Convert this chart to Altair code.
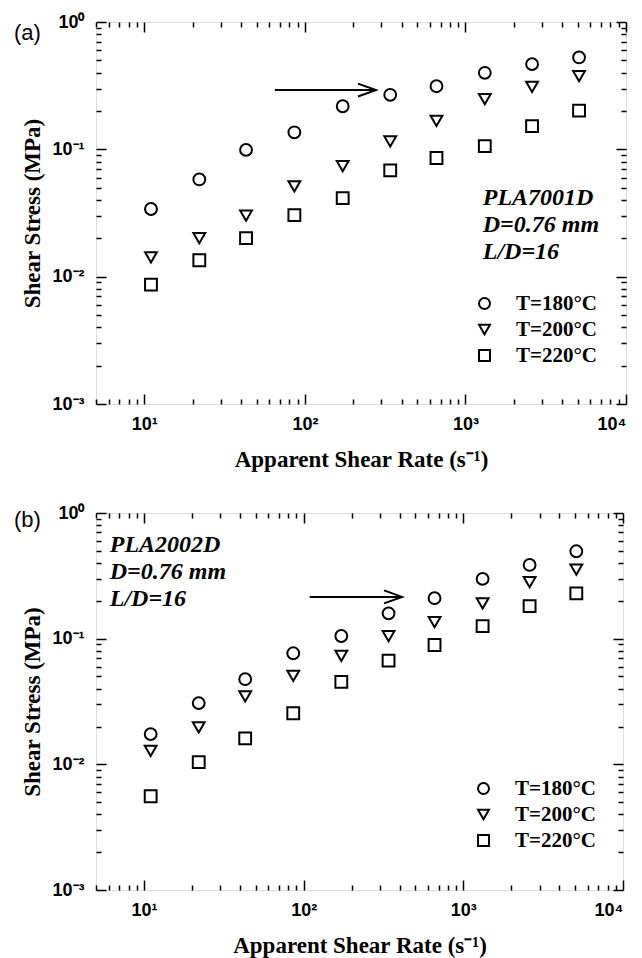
import altair as alt
import pandas as pd

# ---------------- data ----------------
rate = [11, 22, 43, 86, 172, 340, 660, 1320, 2600, 5100]
series = ["T=180°C", "T=200°C", "T=220°C"]

a_180 = [0.034, 0.058, 0.099, 0.136, 0.218, 0.268, 0.313, 0.399, 0.467, 0.527]
a_200 = [0.0142, 0.0201, 0.0302, 0.0512, 0.0739, 0.1156, 0.167, 0.248, 0.31, 0.376]
a_220 = [0.00865, 0.01345, 0.0201, 0.0304, 0.0414, 0.0684, 0.0855, 0.106, 0.152, 0.2015]

b_180 = [0.0174, 0.0307, 0.0476, 0.0765, 0.105, 0.159, 0.210, 0.299, 0.386, 0.496]
b_200 = [0.0128, 0.0197, 0.0347, 0.0506, 0.0728, 0.105, 0.1356, 0.191, 0.282, 0.355]
b_220 = [0.00557, 0.0104, 0.0161, 0.0255, 0.0453, 0.0669, 0.089, 0.126, 0.1817, 0.229]

note_a_lines = ["PLA7001D", "D=0.76 mm", "L/D=16"]
note_a_x = [1282, 1282, 1282]
note_a_y = [0.0417, 0.0254, 0.0156]

note_b_lines = ["PLA2002D", "D=0.76 mm", "L/D=16"]
note_b_x = [6.1, 6.1, 6.1]
note_b_y = [0.556, 0.34, 0.207]

arrow_a = {"x": [65], "x2": [277], "y": [0.292]}
arrow_b = {"x": [109], "x2": [413], "y": [0.215]}

x_major = [10, 100, 1000, 10000]
x_all = [5, 6, 7, 8, 9, 10, 20, 30, 40, 50, 60, 70, 80, 90, 100,
         200, 300, 400, 500, 600, 700, 800, 900, 1000,
         2000, 3000, 4000, 5000, 6000, 7000, 8000, 9000, 10000]
y_major = [0.001, 0.01, 0.1, 1]
y_all = [0.001, 0.002, 0.003, 0.004, 0.005, 0.006, 0.007, 0.008, 0.009,
         0.01, 0.02, 0.03, 0.04, 0.05, 0.06, 0.07, 0.08, 0.09,
         0.1, 0.2, 0.3, 0.4, 0.5, 0.6, 0.7, 0.8, 0.9, 1]

shapes = ["circle", "triangle-down", "square"]

SANS = "Liberation Sans"
SERIF = "Liberation Serif"

sup_expr = ("'10' + (datum.value < 0.005 ? '⁻³' : datum.value < 0.05 ? '⁻²' : "
            "datum.value < 0.5 ? '⁻¹' : datum.value < 5 ? '⁰' : datum.value < 50 ? '¹' : "
            "datum.value < 500 ? '²' : datum.value < 5000 ? '³' : '⁴')")
major_test = "abs(log(datum.value)/LN10 - round(log(datum.value)/LN10)) < 0.001"
tick_size = {"condition": {"test": major_test, "value": 10}, "value": 5}

xscale = alt.Scale(type="log", domain=[5, 10000], nice=False)
yscale = alt.Scale(type="log", domain=[0.001, 1], nice=False)


def tick_axis(orient, offset, values):
    return alt.Axis(orient=orient, offset=offset, values=values, labels=False,
                    domain=False, grid=False, title=None, ticks=True,
                    tickSize=tick_size, tickWidth=1.5, tickColor="black")


def panel(vals, notes, nx, ny, arrow, label, W, H, lx, ly, tdy):
    df = pd.DataFrame({
        "rate": rate * 3,
        "stress": vals[0] + vals[1] + vals[2],
        "series": [s for s in series for _ in rate],
    })
    base = alt.Chart(df)
    pts = base.mark_point(filled=False, strokeWidth=2, color="black", opacity=1,
                          size=140).encode(
        x=alt.X("rate:Q", scale=xscale, axis=alt.Axis(
            orient="bottom", values=x_major, labelExpr=sup_expr, ticks=False,
            domain=False, grid=False, title="Apparent Shear Rate (s⁻¹)",
            labelFont=SANS, labelFontWeight="bold", labelFontSize=18,
            labelColor="black", labelPadding=11,
            titleFont=SERIF, titleFontWeight="bold", titleFontSize=23,
            titleColor="black", titlePadding=15)),
        y=alt.Y("stress:Q", scale=yscale, axis=alt.Axis(
            orient="left", values=y_major, labelExpr=sup_expr, ticks=False,
            domain=False, grid=False, title="Shear Stress (MPa)",
            labelFont=SANS, labelFontWeight="bold", labelFontSize=18,
            labelColor="black", labelPadding=12,
            titleFont=SERIF, titleFontWeight="bold", titleFontSize=23,
            titleColor="black", titlePadding=7)),
        shape=alt.Shape("series:N", scale=alt.Scale(domain=series, range=shapes),
                        legend=alt.Legend(orient="none", legendX=lx, legendY=ly,
                                          title=None, labelFont=SERIF,
                                          labelFontWeight="bold", labelFontSize=21,
                                          labelColor="black", symbolSize=120,
                                          symbolStrokeColor="black",
                                          symbolStrokeWidth=2, labelOffset=21,
                                          rowPadding=4, padding=0)),
    )
    ticks1 = base.mark_point(opacity=0).encode(
        x=alt.X("rate:Q", scale=xscale, axis=tick_axis("top", -H, x_all)),
        y=alt.Y("stress:Q", scale=yscale, axis=tick_axis("right", -W, y_all)),
    )
    ticks2 = base.mark_point(opacity=0).encode(
        x=alt.X("rate:Q", scale=xscale, axis=tick_axis("bottom", -H, x_all)),
        y=alt.Y("stress:Q", scale=yscale, axis=tick_axis("left", -W, y_all)),
    )
    note_df = pd.DataFrame({"x": nx, "y": ny, "t": notes})
    note = alt.Chart(note_df).mark_text(
        align="left", baseline="middle", font=SERIF, fontStyle="italic",
        fontWeight="bold", fontSize=24, color="black").encode(
        x=alt.X("x:Q", scale=xscale, axis=None),
        y=alt.Y("y:Q", scale=yscale, axis=None),
        text="t:N")
    adf = pd.DataFrame(arrow)
    line = alt.Chart(adf).mark_rule(strokeWidth=2, color="black").encode(
        x=alt.X("x:Q", scale=xscale, axis=None),
        x2="x2:Q",
        y=alt.Y("y:Q", scale=yscale, axis=None))
    head = alt.Chart(adf).mark_point(
        shape="M-2,-0.72L0,0L-2,0.72", filled=False, size=324,
        strokeWidth=2, color="black", opacity=1).encode(
        x=alt.X("x2:Q", scale=xscale, axis=None),
        y=alt.Y("y:Q", scale=yscale, axis=None))
    return alt.layer(pts, ticks1, ticks2, note, line, head).resolve_axis(
        x="independent", y="independent").properties(
        width=W, height=H,
        title=alt.TitleParams(label, anchor="start", frame="group", dx=-82, dy=tdy,
                              font=SANS, fontSize=22, fontWeight="normal",
                              color="black"))


pa = panel([a_180, a_200, a_220], note_a_lines, note_a_x, note_a_y, arrow_a,
           "(a)", 530, 382, 378, 271, 36)
pb = panel([b_180, b_200, b_220], note_b_lines, note_b_x, note_b_y, arrow_b,
           "(b)", 527, 377, 377, 265, 32)

chart = alt.vconcat(pa, pb, spacing=31).resolve_scale(shape="independent").resolve_legend(
    shape="independent").properties(
    padding={"left": 5, "top": 4, "right": 5, "bottom": 2}
).configure_view(stroke="black", strokeWidth=2).configure(background="white")

chart.save("out.html", embed_options={"renderer": "svg", "actions": False})
